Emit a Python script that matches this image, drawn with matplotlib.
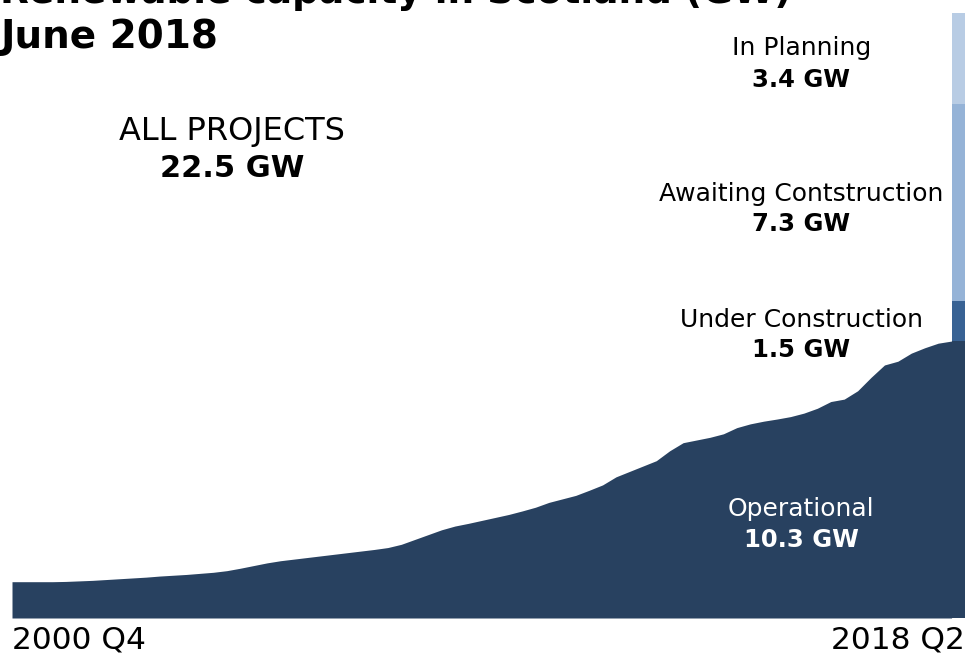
import matplotlib
matplotlib.use("Agg")
import matplotlib.pyplot as plt
import matplotlib.transforms as mtransforms

# ---- data ----
operational = [1.35, 1.35, 1.35, 1.35, 1.36, 1.38, 1.40, 1.43, 1.46, 1.49,
               1.52, 1.56, 1.59, 1.62, 1.66, 1.70, 1.76, 1.85, 1.95, 2.05,
               2.13, 2.19, 2.25, 2.31, 2.37, 2.43, 2.49, 2.55, 2.62, 2.74,
               2.92, 3.10, 3.28, 3.42, 3.52, 3.63, 3.74, 3.85, 3.98, 4.12,
               4.30, 4.43, 4.56, 4.75, 4.95, 5.25, 5.45, 5.65, 5.85, 6.22,
               6.52, 6.62, 6.72, 6.85, 7.08, 7.22, 7.32, 7.40, 7.49, 7.62,
               7.80, 8.05, 8.14, 8.45, 8.95, 9.41, 9.55, 9.85, 10.05, 10.22,
               10.30]
stage_names = ["Operational", "Under Construction", "Awaiting Contstruction", "In Planning"]
stage_values = [10.3, 1.5, 7.3, 3.4]
stage_colors = ["#284160", "#386294", "#95b3d7", "#b8cce4"]
tick_labels = ["2000 Q4", "2018 Q2"]
total_label = "ALL PROJECTS"
total_value = 22.5
title_lines = ["Renewable capacity in Scotland (GW)", "June 2018"]

plt.rcParams['font.family'] = ['DejaVu Sans']

fig = plt.figure(figsize=(9.67, 6.57), dpi=100)
ax = fig.add_axes([12/967, 39/657, 953/967, 605/657])

x = list(range(len(operational)))
ax.fill_between(x, 0, operational, color=stage_colors[0], linewidth=0)

# stacked bar at the end
bar_x = len(operational) - 1
bottom = 0
for v, c in zip(stage_values, stage_colors):
    ax.bar(bar_x, v, width=1.0, bottom=bottom, align='edge', color=c, linewidth=0)
    bottom += v

ax.set_xlim(0, len(operational))
ax.set_ylim(0, total_value)
ax.axis('off')

# stage labels
lab_x = 58.8
label_pos = [(4.05, 2.9, 'white'), (11.1, 9.96, 'black'),
             (15.76, 14.65, 'black'), (21.2, 20.0, 'black')]
for name, v, (y1, y2, col) in zip(stage_names, stage_values, label_pos):
    ax.text(lab_x, y1, name, ha='center', va='center', fontsize=18, color=col)
    ax.text(lab_x, y2, f"{v:.1f} GW", ha='center', va='center', fontsize=17.5,
            fontweight='bold', color=col)

ax.text(16.4, 18.1, total_label, ha='center', va='center', fontsize=23)
ax.text(16.4, 16.7, f"{total_value:.1f} GW", ha='center', va='center',
        fontsize=22, fontweight='bold')

# tick labels
trans = mtransforms.blended_transform_factory(ax.transData, fig.transFigure)
ax.text(0, 17/657, tick_labels[0], ha='left', va='center', fontsize=22.5, transform=trans)
ax.text(len(operational), 17/657, tick_labels[1], ha='right', va='center', fontsize=22.5,
        transform=trans)

# title (partially cut off at top, as in the reference)
fig.text(0.0, 1 - 48/657, title_lines[1], ha='left', va='baseline', fontsize=28,
         fontweight='bold')
fig.text(0.0, 1 - 3/657, title_lines[0], ha='left', va='baseline', fontsize=27,
         fontweight='bold')

fig.savefig("out.png", dpi=100)
